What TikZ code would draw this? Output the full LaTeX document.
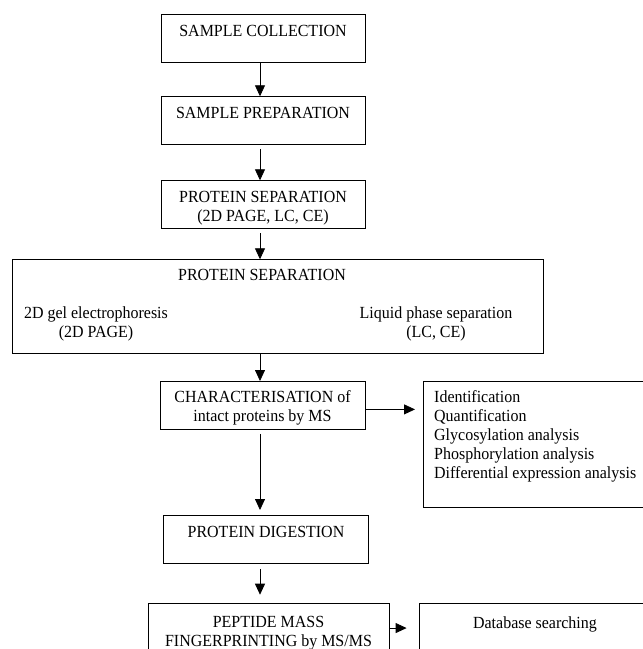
\documentclass[tikz,border=0pt]{standalone}
\usepackage{fontspec}
\setmainfont{Liberation Serif}[FakeStretch=0.94]
\usepackage{tikz}
\usetikzlibrary{arrows.meta, positioning}

\begin{document}
\begin{tikzpicture}[
    x=1pt, y=-1pt,
    font=\fontsize{17}{19}\selectfont,
    box/.style={draw, line width=0.8pt, inner sep=0pt, align=center},
    onebox/.style={box, text height=22pt, text depth=26pt},
    twobox/.style={box, text height=40.3pt, text depth=7.7pt},
    flow/.style={line width=0.8pt, -{Triangle[length=11pt, width=10pt]}}
]
\useasboundingbox (0,0) rectangle (643,649);
\clip (0,0) rectangle (643,649);

\coordinate (axis) at (260,0);

% Sample handling
\node[onebox, minimum width=204pt, anchor=north] (collect) at (263,14.3) {SAMPLE COLLECTION};
\node[onebox, minimum width=204pt, anchor=north] (prep) at (263,96.3) {SAMPLE PREPARATION};
\node[twobox, minimum width=204pt, anchor=north] (sepshort) at (263,180.3) {PROTEIN SEPARATION\\(2D PAGE, LC, CE)};

% Separation methods
\node[box, minimum width=531pt, minimum height=93.4pt, anchor=north west] (sepfull) at (12,259.3) {};
\node (septitle) at (262,275) {PROTEIN SEPARATION};
\node[align=center] (gel) at (96,324) {2D gel electrophoresis\\(2D PAGE)};
\node[align=center] (liquid) at (436,324) {Liquid phase separation\\(LC, CE)};

% Intact proteins
\node[twobox, minimum width=205pt, anchor=north] (charac) at (262.5,381) {CHARACTERISATION of\\intact proteins by MS};
\node[box, minimum width=242pt, minimum height=126.3pt, anchor=north west] (results) at (423,381) {};
\node[align=left, anchor=north west, inner sep=0pt] (resultlist) at (434,390.7) {Identification\\Quantification\\Glycosylation analysis\\Phosphorylation analysis\\Differential expression analysis};

% Peptides
\node[onebox, minimum width=204.5pt, anchor=north] (digest) at (266,515) {PROTEIN DIGESTION};
\node[box, minimum width=241pt, text height=42.9pt, text depth=15pt, anchor=north] (pmf) at (268.5,602.7) {PEPTIDE MASS\\FINGERPRINTING by MS/MS};
\node[box, minimum width=232pt, text height=24.9pt, text depth=36pt, anchor=north] (dbsearch) at (535,602.7) {Database searching};

\coordinate (charout) at ([yshift=-4pt]charac.east);
\coordinate (pmfout) at ([yshift=4pt]pmf.east);

\draw[flow] (collect.south -| axis) -- (prep.north -| axis);
\draw[flow, shorten <=4pt] (prep.south -| axis) -- (sepshort.north -| axis);
\draw[flow, shorten <=4pt] (sepshort.south -| axis) -- (sepfull.north -| axis);
\draw[flow] (sepfull.south -| axis) -- (charac.north -| axis);
\draw[flow, shorten >=8pt] (charout) -- (charout -| results.west);
\draw[flow, shorten <=4pt, shorten >=5pt] (charac.south -| axis) -- (digest.north -| axis);
\draw[flow, shorten <=5pt, shorten >=8pt] (digest.south -| axis) -- (pmf.north -| axis);
\draw[flow, shorten >=12pt] (pmfout) -- (pmfout -| dbsearch.west);

\end{tikzpicture}
\end{document}
